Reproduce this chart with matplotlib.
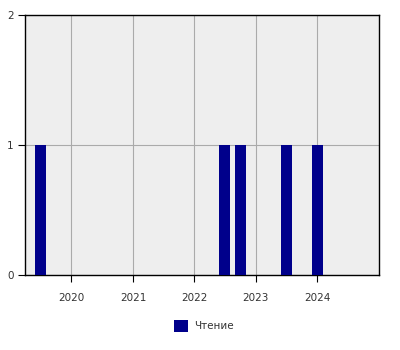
import datetime as dt
import matplotlib
matplotlib.use('Agg')
import matplotlib.pyplot as plt
import matplotlib.dates as mdates

# data: one reading entry per month bucket
dates = ['2019-07-01', '2022-07-01', '2022-10-01', '2023-07-01', '2024-01-01']
counts = [1, 1, 1, 1, 1]
series_name = 'Чтение'
year_ticks = [2020, 2021, 2022, 2023, 2024]

if __name__ == '__main__':
    x = [dt.datetime.strptime(d, '%Y-%m-%d') for d in dates]

    fig = plt.figure(figsize=(4, 3.5), dpi=100)
    ax = fig.add_axes([0.0625, 0.2143, 0.885, 0.7428])
    ax.set_facecolor('#EEEEEE')

    ax.bar(x, counts, width=66, color='#00008B', label=series_name, zorder=3)

    ax.set_xlim(dt.datetime(2019, 4, 1), dt.datetime(2025, 1, 1))
    ax.set_ylim(0, 2)
    ax.set_yticks([0, 1, 2])
    ax.set_xticks([dt.datetime(y, 1, 1) for y in year_ticks])
    ax.xaxis.set_major_formatter(mdates.DateFormatter('%Y'))

    ax.grid(True, color='#AAAAAA', linewidth=0.8, zorder=0)
    for s in ax.spines.values():
        s.set_color('black')
        s.set_linewidth(1.0)
    ax.tick_params(axis='x', length=5, pad=8, labelsize=7.5, labelcolor='#333333')
    ax.tick_params(axis='y', length=5, pad=3, labelsize=7.5, labelcolor='#333333')

    fig.legend(loc='center', bbox_to_anchor=(0.51, 0.069), frameon=False,
               fontsize=7.5, handlelength=1.3, handleheight=1.3, handletextpad=0.6,
               labelcolor='#333333')

    fig.savefig('out.png', dpi=100)
